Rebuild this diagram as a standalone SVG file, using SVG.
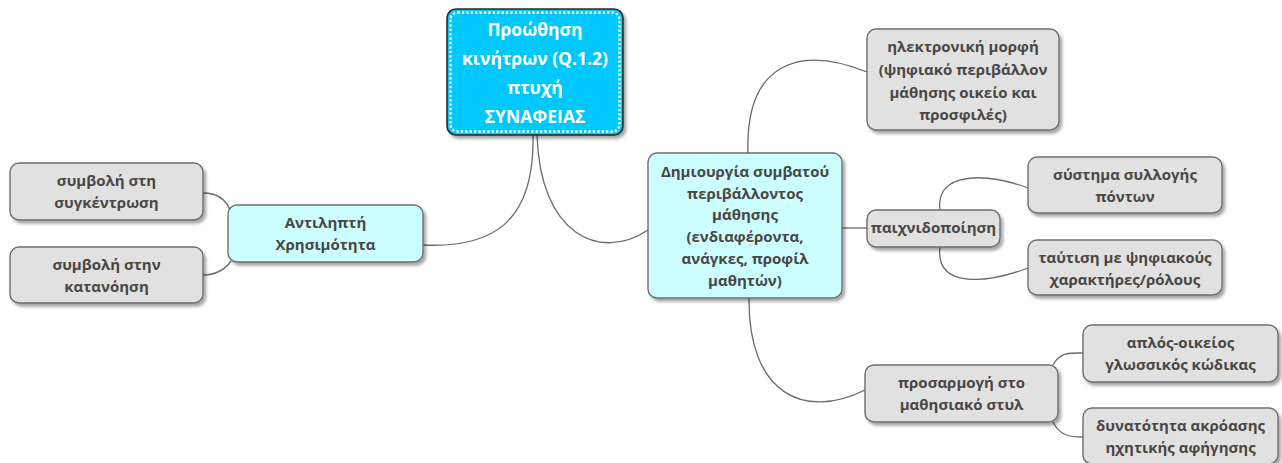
<svg xmlns="http://www.w3.org/2000/svg" width="1282" height="463" viewBox="0 0 1282 463">
  <defs>
    <filter id="shadow" x="-10%" y="-10%" width="130%" height="140%">
      <feDropShadow dx="2.5" dy="3" stdDeviation="1.6" flood-color="#000" flood-opacity="0.35"/>
    </filter>
    <style>
      .box { fill: #e1e1e1; stroke: #6e6e6e; stroke-width: 1.4; filter: url(#shadow); }
      .mid { fill: #ccfeff; stroke: #6e6e6e; stroke-width: 1.4; filter: url(#shadow); }
      .root { fill: #00c8fa; stroke: #2a2a2a; stroke-width: 1.6; filter: url(#shadow); }
      .dots { fill: none; stroke: #ffffff; stroke-width: 2.4; stroke-dasharray: 2.4 2; }
      .lbl { font-family: "Open Sans", "DejaVu Sans", sans-serif; font-weight: bold; font-size: 15px; fill: #4a4644; text-anchor: middle; }
      .rootlbl { font-family: "Open Sans", "DejaVu Sans", sans-serif; font-weight: bold; font-size: 17.5px; fill: #ffffff; text-anchor: middle; }
      .link { fill: none; stroke: #6a6a6a; stroke-width: 1.3; }
    </style>
  </defs>
  <rect width="1282" height="463" fill="#ffffff"/>

  <g id="connectors">
    <path class="link" d="M533,135 C535,225 490,248 423,245"/>
    <path class="link" d="M537,135 C540,235 600,262 648,230"/>
    <path class="link" d="M203,193 C218,193 226,200 230,210"/>
    <path class="link" d="M203,275 C218,275 226,268 231,261"/>
    <path class="link" d="M748,153 C745,62 800,45 867,72"/>
    <path class="link" d="M842,228 L867,228"/>
    <path class="link" d="M749,298 C748,395 805,420 865,390"/>
    <path class="link" d="M940,210 C935,172 985,172 1028,188"/>
    <path class="link" d="M940,247 C935,288 985,284 1028,268"/>
    <path class="link" d="M1053,365 C1060,352 1070,353 1083,353"/>
    <path class="link" d="M1053,422 C1060,436 1070,437 1083,437"/>
  </g>

  <g id="root">
    <rect class="root" x="447" y="9" width="176" height="126" rx="9"/>
    <rect class="dots" x="450.5" y="12.5" width="169" height="119" rx="7"/>
    <text class="rootlbl" x="535" y="36">Προώθηση</text>
    <text class="rootlbl" x="535" y="65">κινήτρων (Q.1.2)</text>
    <text class="rootlbl" x="535" y="94">πτυχή</text>
    <text class="rootlbl" x="535" y="123">ΣΥΝΑΦΕΙΑΣ</text>
  </g>

  <g id="usefulness">
    <rect class="mid" x="228" y="205" width="195" height="57" rx="9"/>
    <text class="lbl" x="325.5" y="228">Αντιληπτή</text>
    <text class="lbl" x="325.5" y="250">Χρησιμότητα</text>
  </g>

  <g id="concentration">
    <rect class="box" x="10" y="163" width="193" height="57" rx="9"/>
    <text class="lbl" x="106.5" y="186">συμβολή στη</text>
    <text class="lbl" x="106.5" y="208">συγκέντρωση</text>
  </g>

  <g id="comprehension">
    <rect class="box" x="10" y="247" width="193" height="56" rx="9"/>
    <text class="lbl" x="106.5" y="270">συμβολή στην</text>
    <text class="lbl" x="106.5" y="292">κατανόηση</text>
  </g>

  <g id="environment">
    <rect class="mid" x="648" y="153" width="194" height="145" rx="9"/>
    <text class="lbl" x="745" y="177">Δημιουργία συμβατού</text>
    <text class="lbl" x="745" y="199">περιβάλλοντος</text>
    <text class="lbl" x="745" y="220">μάθησης</text>
    <text class="lbl" x="745" y="242">(ενδιαφέροντα,</text>
    <text class="lbl" x="745" y="264">ανάγκες, προφίλ</text>
    <text class="lbl" x="745" y="286">μαθητών)</text>
  </g>

  <g id="electronic">
    <rect class="box" x="867" y="29" width="192" height="101" rx="9"/>
    <text class="lbl" x="963" y="52">ηλεκτρονική μορφή</text>
    <text class="lbl" x="963" y="75">(ψηφιακό περιβάλλον</text>
    <text class="lbl" x="963" y="98">μάθησης οικείο και</text>
    <text class="lbl" x="963" y="120">προσφιλές)</text>
  </g>

  <g id="gamification">
    <rect class="box" x="867" y="210" width="133" height="37" rx="9"/>
    <text class="lbl" x="933.5" y="233">παιχνιδοποίηση</text>
  </g>

  <g id="points">
    <rect class="box" x="1028" y="157" width="194" height="56" rx="9"/>
    <text class="lbl" x="1125" y="180">σύστημα συλλογής</text>
    <text class="lbl" x="1125" y="202">πόντων</text>
  </g>

  <g id="characters">
    <rect class="box" x="1028" y="240" width="194" height="55" rx="9"/>
    <text class="lbl" x="1125" y="263">ταύτιση με ψηφιακούς</text>
    <text class="lbl" x="1125" y="285">χαρακτήρες/ρόλους</text>
  </g>

  <g id="style">
    <rect class="box" x="865" y="365" width="193" height="57" rx="9"/>
    <text class="lbl" x="961.5" y="388">προσαρμογή στο</text>
    <text class="lbl" x="961.5" y="410">μαθησιακό στυλ</text>
  </g>

  <g id="language">
    <rect class="box" x="1083" y="325" width="195" height="57" rx="9"/>
    <text class="lbl" x="1180.5" y="348">απλός-οικείος</text>
    <text class="lbl" x="1180.5" y="370">γλωσσικός κώδικας</text>
  </g>

  <g id="narration">
    <rect class="box" x="1083" y="408" width="195" height="56" rx="9"/>
    <text class="lbl" x="1180.5" y="431">δυνατότητα ακρόασης</text>
    <text class="lbl" x="1180.5" y="453">ηχητικής αφήγησης</text>
  </g>
</svg>
